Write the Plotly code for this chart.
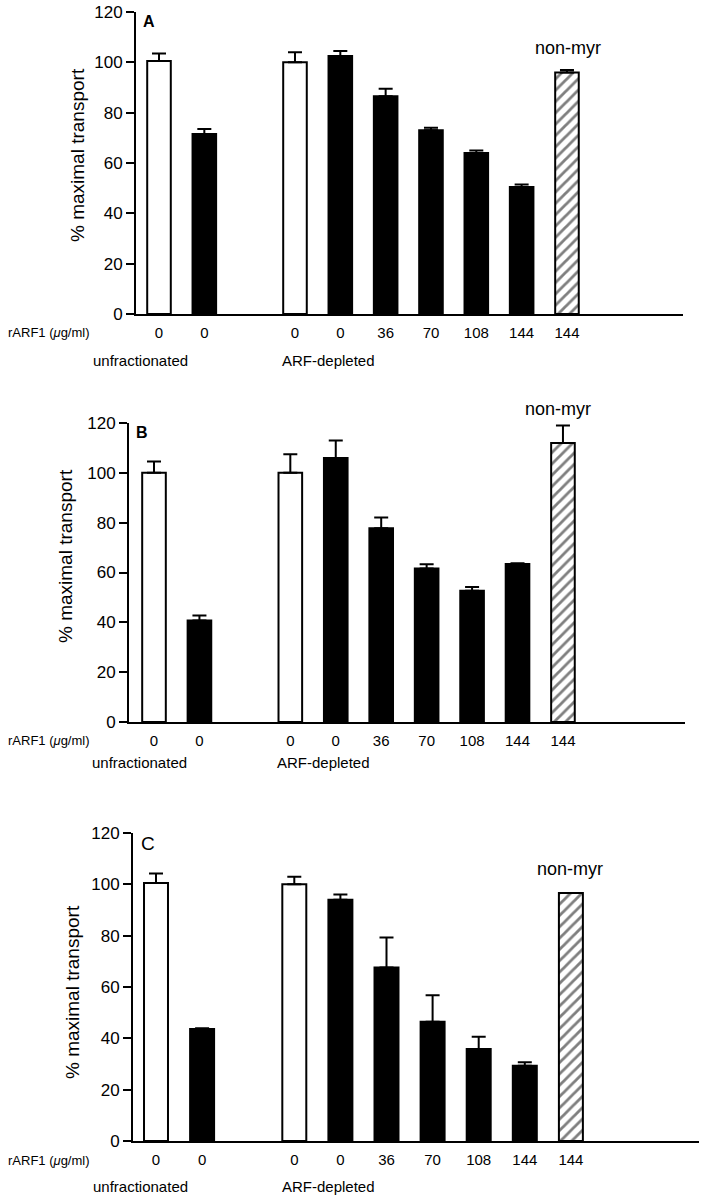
import plotly.graph_objects as go

# ---- data ----
dose_labels = ["0", "0", "0", "0", "36", "70", "108", "144", "144"]
bar_kinds = ["open", "solid", "open", "solid", "solid", "solid", "solid", "solid", "hatched"]
groups = ["unfractionated", "ARF-depleted"]
group_sizes = [2, 7]

values_A = [100.5, 71.5, 100, 102.5, 86.5, 73, 64, 50.5, 96]
errors_A = [3, 2, 4, 2, 3, 1, 1, 1, 1]

values_B = [100, 40.7, 100, 106, 77.8, 61.6, 52.7, 63.4, 112]
errors_B = [4.5, 2, 7.5, 7, 4.3, 1.7, 1.5, 0.3, 7]

values_C = [100.5, 43.6, 100, 94, 67.6, 46.5, 35.8, 29.3, 96.6]
errors_C = [3.7, 0.3, 3, 2, 11.7, 10.3, 4.8, 1.4, 0]

panel_letters = ["A", "B", "C"]
y_title = "% maximal transport"
x_title = "rARF1 (<i>μ</i>g/ml)"
note = "non-myr"

# ---- layout helpers ----
W, H = 701, 1199
FONT = "Liberation Sans, Arial, Helvetica, sans-serif"


def px_x(px):
    return px / W


def px_y(py):
    return 1 - py / H


# slot positions: gap of one slot between the two groups
positions = []
s = 0
for gi, n in enumerate(group_sizes):
    for _ in range(n):
        positions.append(s)
        s += 1
    s += 1

panels = [
    dict(vals=values_A, errs=errors_A, x0=136, x1=683, ytop=12, ybot=314, c0=159, unit=45.33,
         tick_y=332, grp_y=360, ytitle_x=78, ytitle_y=155, letter_x=141, letter_y=21,
         note_y=48, note_x=568, grp_x=[140, 328], bold=True),
    dict(vals=values_B, errs=errors_B, x0=129, x1=685, ytop=423, ybot=722, c0=154, unit=45.44,
         tick_y=740, grp_y=762, ytitle_x=65, ytitle_y=556, letter_x=134, letter_y=432,
         note_y=409, note_x=558, grp_x=[139, 323], bold=True),
    dict(vals=values_C, errs=errors_C, x0=133, x1=699, ytop=833, ybot=1141, c0=156, unit=46.1,
         tick_y=1160, grp_y=1186, ytitle_x=72, ytitle_y=992, letter_x=139, letter_y=843,
         note_y=869, note_x=570, grp_x=[140, 328], bold=False),
]

fill_map = {"open": "white", "solid": "black", "hatched": "white"}

fig = go.Figure()
annotations = []
layout_axes = {}


def note_ann(text, x, y, size, **kw):
    d = dict(text=text, xref="paper", yref="paper", x=px_x(x), y=px_y(y),
             xanchor="center", yanchor="middle", showarrow=False,
             font=dict(family=FONT, size=size, color="black"))
    d.update(kw)
    return d


for i, p in enumerate(panels):
    k = "" if i == 0 else str(i + 1)
    xa, ya = "x" + k, "y" + k
    for kind in ["open", "solid", "hatched"]:
        idx = [j for j, b in enumerate(bar_kinds) if b == kind]
        marker = dict(color=fill_map[kind], line=dict(color="black", width=2))
        if kind == "hatched":
            marker["pattern"] = dict(shape="/", fgcolor="black", bgcolor="white", size=8, solidity=0.35)
        fig.add_trace(go.Bar(
            x=[positions[j] for j in idx],
            y=[p["vals"][j] for j in idx],
            width=0.52,
            marker=marker,
            error_y=dict(type="data", symmetric=False,
                         array=[p["errs"][j] for j in idx],
                         arrayminus=[0] * len(idx),
                         color="black", thickness=2, width=7),
            xaxis=xa, yaxis=ya, showlegend=False, hoverinfo="skip",
        ))
    x_lo = (p["x0"] - p["c0"]) / p["unit"]
    x_hi = (p["x1"] - p["c0"]) / p["unit"]
    layout_axes["xaxis" + k] = dict(
        domain=[px_x(p["x0"]), min(1.0, px_x(p["x1"]))], range=[x_lo, x_hi], anchor=ya,
        automargin=False,
        showline=True, linecolor="black", linewidth=2, showgrid=False, zeroline=False,
        tickmode="array", tickvals=positions, ticktext=dose_labels,
        ticks="outside", ticklen=4, tickcolor="rgba(0,0,0,0)",
        tickfont=dict(family=FONT, size=15, color="black"),
    )
    layout_axes["yaxis" + k] = dict(
        domain=[px_y(p["ybot"]), px_y(p["ytop"])], range=[0, 120], anchor=xa,
        automargin=False,
        showline=True, linecolor="black", linewidth=2, showgrid=False, zeroline=False,
        tickmode="linear", tick0=0, dtick=20, ticks="outside", ticklen=8, tickwidth=2,
        tickcolor="black", tickfont=dict(family=FONT, size=17, color="black"),
    )
    annotations.append(note_ann(y_title, p["ytitle_x"], p["ytitle_y"], 19, textangle=-90))
    letter = "<b>%s</b>" % panel_letters[i] if p["bold"] else panel_letters[i]
    annotations.append(note_ann(letter, p["letter_x"], p["letter_y"], 16 if p["bold"] else 19,
                                xanchor="left"))
    annotations.append(note_ann(note, p["note_x"], p["note_y"], 18))
    annotations.append(note_ann(x_title, 92, p["tick_y"], 13, xanchor="right"))
    for g, gx in zip(groups, p["grp_x"]):
        annotations.append(note_ann(g, gx, p["grp_y"], 15))

fig.update_layout(
    width=W, height=H, margin=dict(l=0, r=0, t=0, b=0, autoexpand=False),
    paper_bgcolor="white", plot_bgcolor="white", barmode="overlay",
    annotations=annotations, **layout_axes,
)

fig.write_html("out.html", config={"displayModeBar": False},
               post_script="document.body.style.margin='0px';")
